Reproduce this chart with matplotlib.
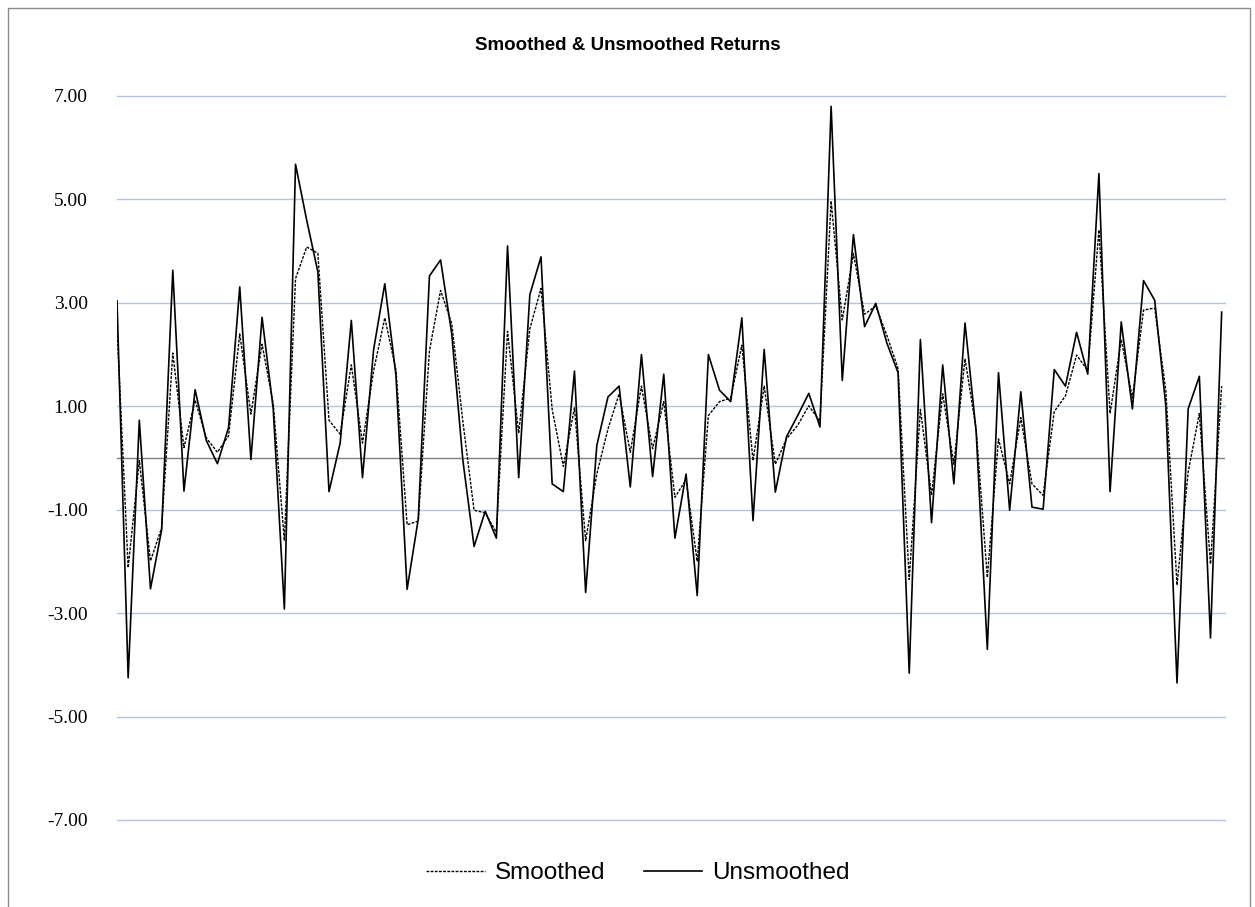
import numpy as np
import matplotlib.pyplot as plt
from matplotlib.patches import Rectangle

# Values (100 periods)
unsmoothed = [
    3.04, -4.25, 0.73, -2.53, -1.39, 3.63, -0.64, 1.32, 0.34, -0.11,
    0.59, 3.31, -0.03, 2.72, 0.95, -2.92, 5.68, 4.6, 3.6, -0.65,
    0.29, 2.66, -0.38, 2.1, 3.37, 1.6, -2.54, -1.18, 3.52, 3.83,
    2.4, -0.05, -1.71, -1.03, -1.55, 4.1, -0.38, 3.16, 3.89, -0.5,
    -0.65, 1.68, -2.6, 0.24, 1.18, 1.39, -0.56, 2.0, -0.36, 1.62,
    -1.55, -0.31, -2.66, 2.0, 1.31, 1.09, 2.71, -1.21, 2.1, -0.66,
    0.41, 0.82, 1.25, 0.6, 6.8, 1.5, 4.32, 2.54, 2.99, 2.22,
    1.65, -4.16, 2.29, -1.25, 1.8, -0.5, 2.61, 0.5, -3.7, 1.65,
    -1.01, 1.28, -0.95, -0.99, 1.71, 1.39, 2.43, 1.62, 5.5, -0.65,
    2.63, 0.95, 3.43, 3.05, 1.0, -4.35, 0.95, 1.58, -3.48, 2.82,
]
smoothed = [
    2.53, -2.12, -0.05, -1.99, -1.35, 2.03, 0.2, 1.12, 0.39, 0.11,
    0.43, 2.4, 0.85, 2.2, 1.05, -1.6, 3.47, 4.08, 3.96, 0.73,
    0.46, 1.8, 0.29, 1.69, 2.71, 1.7, -1.29, -1.22, 2.07, 3.24,
    2.6, 0.7, -1.01, -1.06, -1.44, 2.45, 0.48, 2.5, 3.28, 0.94,
    -0.16, 0.97, -1.6, -0.31, 0.56, 1.24, 0.11, 1.39, 0.18, 1.09,
    -0.76, -0.42, -2.0, 0.82, 1.09, 1.16, 2.18, -0.05, 1.39, -0.12,
    0.37, 0.63, 1.01, 0.71, 4.97, 2.67, 3.95, 2.78, 2.94, 2.37,
    1.73, -2.35, 0.94, -0.72, 1.24, -0.12, 1.92, 0.55, -2.31, 0.37,
    -0.5, 0.78, -0.5, -0.72, 0.9, 1.2, 1.99, 1.69, 4.41, 0.86,
    2.29, 1.16, 2.86, 2.9, 1.3, -2.46, -0.27, 0.86, -2.05, 1.39,
]
y_ticks = [-7, -5, -3, -1, 1, 3, 5, 7]

x = np.arange(len(unsmoothed))

fig = plt.figure(figsize=(12.55, 9.07), dpi=100)
ax = fig.add_axes([117 / 1255, 1 - 820 / 907, (1225 - 117) / 1255, (820 - 96) / 907])

# chart area border
fig.patches.append(Rectangle((8 / 1255, -0.05), 1242 / 1255, 1.05 - 8 / 907,
                             transform=fig.transFigure, fill=False,
                             edgecolor='#8c8c8c', linewidth=1.0))

for v in y_ticks:
    ax.axhline(v, color='#b4c3e0', linewidth=1.0, zorder=0, clip_on=False)
ax.axhline(0, color='#7f7f7f', linewidth=1.0, zorder=1)

l1, = ax.plot(x, smoothed, color='black', linewidth=1.0, linestyle=(0, (2, 1)), zorder=3)
l2, = ax.plot(x, unsmoothed, color='black', linewidth=1.2, zorder=4)

ax.set_xlim(0, len(x) - 1 + 0.3)
ax.set_ylim(-7, 7)
ax.set_yticks(y_ticks)
ax.set_yticklabels([f'{v:.2f}' for v in y_ticks], fontfamily='Liberation Serif', fontsize=14)
ax.set_xticks([])
ax.tick_params(axis='y', length=0, pad=21)
for s in ax.spines.values():
    s.set_visible(False)

fig.text(0.5, 1 - 45 / 907, 'Smoothed & Unsmoothed Returns', ha='center', va='center',
         fontfamily='Liberation Sans', fontweight='bold', fontsize=13.5)

leg = fig.legend([l1, l2], ['Smoothed', 'Unsmoothed'], loc='center',
                 bbox_to_anchor=(638 / 1255, 1 - 873 / 907), ncol=2, frameon=False,
                 prop={'family': 'Liberation Sans', 'size': 17.5}, handlelength=2.4,
                 columnspacing=1.6, handletextpad=0.4)

plt.savefig('out.png', dpi=100)
